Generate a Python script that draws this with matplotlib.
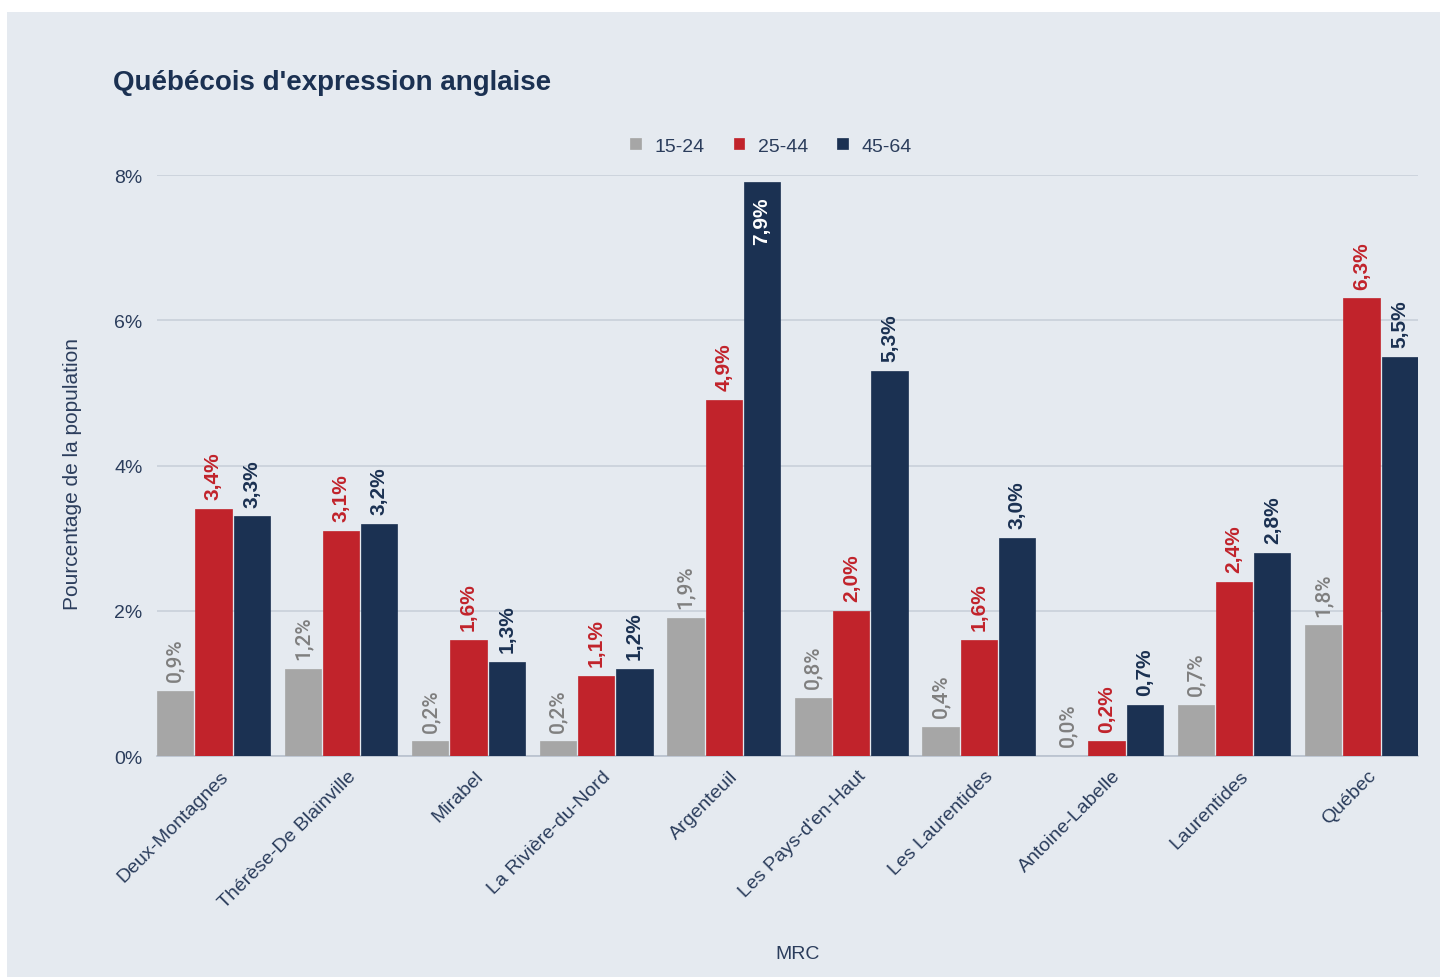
import matplotlib
matplotlib.use("Agg")
import matplotlib.pyplot as plt
from matplotlib.patches import Rectangle
import matplotlib.transforms as mtransforms
import numpy as np

categories = ["Deux-Montagnes", "Thérèse-De Blainville", "Mirabel", "La Rivière-du-Nord",
              "Argenteuil", "Les Pays-d'en-Haut", "Les Laurentides", "Antoine-Labelle",
              "Laurentides", "Québec"]
series_names = ["15-24", "25-44", "45-64"]
s_15_24 = [0.9, 1.2, 0.2, 0.2, 1.9, 0.8, 0.4, 0.0, 0.7, 1.8]
s_25_44 = [3.4, 3.1, 1.6, 1.1, 4.9, 2.0, 1.6, 0.2, 2.4, 6.3]
s_45_64 = [3.3, 3.2, 1.3, 1.2, 7.9, 5.3, 3.0, 0.7, 2.8, 5.5]
yticks = [0, 2, 4, 6, 8]

bar_colors = ["#a6a6a6", "#c1232b", "#1b3152"]
label_colors = ["#7f7f7f", "#c1232b", "#1b3152"]
text_color = "#2b3d5c"
panel_color = "#e5eaf0"

plt.rcParams['font.family'] = ['Liberation Sans', 'DejaVu Sans']

fig = plt.figure(figsize=(14.4, 9.79), dpi=100)
fig.patch.set_facecolor("white")
fig.patches.append(Rectangle((7/1440, 1 - 978/979), 1 - 7/1440, (978 - 13)/979,
                             transform=fig.transFigure, facecolor=panel_color,
                             edgecolor="none", zorder=-10))

ax = fig.add_axes([157/1440, 1 - 757/979, (1418 - 157)/1440, (757 - 176)/979])
ax.set_facecolor("none")

step = 0.3
width = 0.285
x = np.arange(len(categories))
all_series = [s_15_24, s_25_44, s_45_64]
for k, (vals, name) in enumerate(zip(all_series, series_names)):
    pos = x + (k - 1) * step
    ax.bar(pos, vals, width=width, color=bar_colors[k], label=name,
           edgecolor=bar_colors[k], linewidth=0.5, zorder=3)
    for xi, v in zip(pos, vals):
        txt = f"{v:.1f}%".replace(".", ",")
        if v > 7.5:
            ax.annotate(txt, (xi, v), xytext=(0, -10), textcoords="offset points",
                        rotation=90, ha="center", va="top", color="white",
                        fontsize=15, fontweight="bold", zorder=5)
        elif k == 0:
            ax.annotate(txt, (xi, v), xytext=(0, 7), textcoords="offset points",
                        rotation=90, ha="center", va="bottom", color=label_colors[k],
                        fontsize=15, family=["Roboto", "DejaVu Sans"],
                        fontweight="medium", zorder=5)
        else:
            ax.annotate(txt, (xi, v), xytext=(0, 7), textcoords="offset points",
                        rotation=90, ha="center", va="bottom", color=label_colors[k],
                        fontsize=15, fontweight="bold", zorder=5)

ax.set_xlim(-step - width / 2, len(categories) - 1 + step + width / 2)
ax.set_ylim(0, 8)
ax.set_yticks(yticks)
ax.set_yticklabels([f"{t}%" for t in yticks])
ax.yaxis.grid(True, color="#c9d0da", linewidth=1.2, zorder=0)
ax.set_axisbelow(True)
for s in ["top", "right", "left"]:
    ax.spines[s].set_visible(False)
ax.spines["bottom"].set_color("#b8c1ce")
ax.spines["bottom"].set_linewidth(1.2)
ax.tick_params(axis="y", length=0, pad=10.5, labelsize=14, labelcolor=text_color)
ax.tick_params(axis="x", length=0, pad=8, labelsize=14, labelcolor=text_color)
ax.set_xticks(x)
ax.set_xticklabels(categories, rotation=45, ha="right", rotation_mode="anchor")
offset = mtransforms.ScaledTranslation(6/100, 0, fig.dpi_scale_trans)
for lab in ax.get_xticklabels():
    lab.set_transform(lab.get_transform() + offset)

fig.text(73/1440, 1 - 474/979, "Pourcentage de la population", rotation=90,
         ha="center", va="center", fontsize=15, color=text_color)
fig.text(798/1440, 1 - 955/979, "MRC", ha="center", va="center", fontsize=14,
         color=text_color)
fig.text(113/1440, 1 - 83/979, "Québécois d'expression anglaise", ha="left",
         va="center", fontsize=20, fontweight="bold", color="#1b3152")

leg = ax.legend(loc="center", bbox_to_anchor=(771/1440, 1 - 147/979),
                bbox_transform=fig.transFigure, ncol=3, frameon=False,
                fontsize=14, handlelength=0.55, handleheight=0.55,
                columnspacing=1.5, handletextpad=0.7)
for t in leg.get_texts():
    t.set_color(text_color)

fig.savefig("out.png", dpi=100, facecolor=fig.get_facecolor())
